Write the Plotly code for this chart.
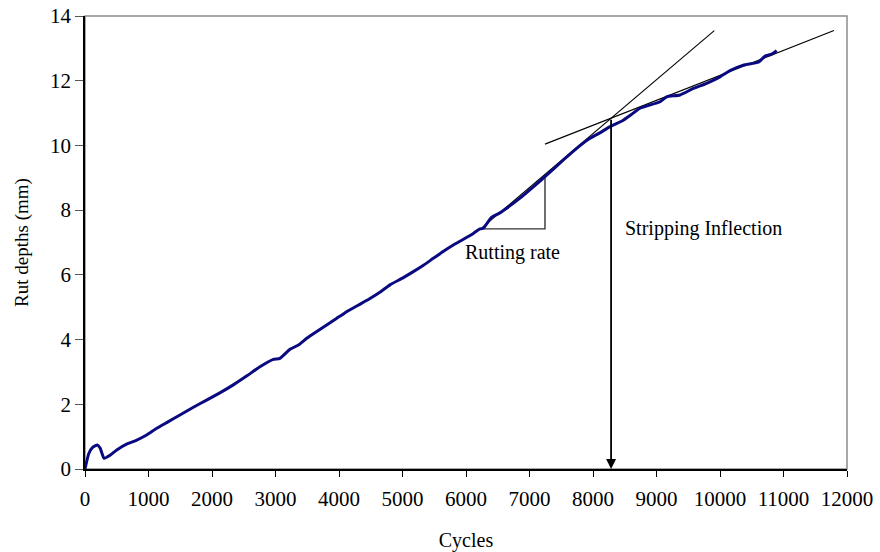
import plotly.graph_objects as go

# Measured rut depth vs. load cycles
cycles = [0, 60, 120, 195, 240, 300, 400, 500, 655, 800,
          970, 1130, 1300, 1495, 1700, 1915, 2130, 2335, 2550, 2755,
          2965, 3070, 3228, 3360, 3491, 3650, 3806, 3960, 4121, 4300,
          4488, 4650, 4803, 5000, 5170, 5330, 5485, 5640, 5800, 5960,
          6115, 6220, 6273, 6404, 6520, 6640, 6850, 7060, 7270, 7533,
          7743, 7953, 8100, 8268, 8477, 8600, 8740, 9055, 9160, 9370,
          9580, 9790, 10000, 10157, 10367, 10603, 10709, 10814, 10893]
rut_mm = [0, 0.48, 0.67, 0.74, 0.64, 0.33, 0.43, 0.59, 0.77, 0.88,
          1.05, 1.26, 1.45, 1.67, 1.9, 2.13, 2.36, 2.6, 2.88, 3.16,
          3.39, 3.42, 3.7, 3.83, 4.04, 4.25, 4.45, 4.65, 4.86, 5.06,
          5.27, 5.47, 5.69, 5.9, 6.1, 6.3, 6.51, 6.72, 6.92, 7.1,
          7.28, 7.42, 7.44, 7.78, 7.9, 8.06, 8.37, 8.72, 9.08, 9.55,
          9.91, 10.22, 10.38, 10.58, 10.78, 10.95, 11.15, 11.35, 11.5, 11.56,
          11.76, 11.92, 12.12, 12.31, 12.48, 12.57, 12.76, 12.82, 12.93]

# Tangent before stripping (creep slope) and after stripping
creep_x = [6230, 9910]
creep_y = [7.42, 13.55]
strip_x = [7244, 11795]
strip_y = [10.04, 13.55]

# Run of the rutting-rate triangle
rate_x = [6230, 7244]

x_ticks = list(range(0, 12001, 1000))
y_ticks = list(range(0, 15, 2))

FONT = "Liberation Serif, Times New Roman, serif"


def line_at(xs, ys, x):
    return ys[0] + (ys[1] - ys[0]) * (x - xs[0]) / (xs[1] - xs[0])


# Intersection of the two tangents = stripping inflection point
m1 = (creep_y[1] - creep_y[0]) / (creep_x[1] - creep_x[0])
m2 = (strip_y[1] - strip_y[0]) / (strip_x[1] - strip_x[0])
b1 = creep_y[0] - m1 * creep_x[0]
b2 = strip_y[0] - m2 * strip_x[0]
x_inf = (b2 - b1) / (m1 - m2)
y_inf = m1 * x_inf + b1

fig = go.Figure()

fig.add_trace(go.Scatter(x=creep_x, y=creep_y, mode="lines",
                         line=dict(color="black", width=1.1), showlegend=False))
fig.add_trace(go.Scatter(x=strip_x, y=strip_y, mode="lines",
                         line=dict(color="black", width=1.1), showlegend=False))

# Rutting-rate triangle (run and rise)
rate_top = line_at(creep_x, creep_y, rate_x[1]) - 0.05
fig.add_trace(go.Scatter(x=[rate_x[0], rate_x[1], rate_x[1]],
                         y=[creep_y[0], creep_y[0], rate_top],
                         mode="lines", line=dict(color="#333333", width=1.4),
                         showlegend=False))

fig.add_trace(go.Scatter(x=cycles, y=rut_mm, mode="lines",
                         line=dict(color="#0a0a80", width=3, shape="spline", smoothing=0.5),
                         showlegend=False))

# Vertical arrow from inflection point down to the cycle axis
fig.add_annotation(x=x_inf, y=0, ax=x_inf, ay=y_inf, xref="x", yref="y",
                   axref="x", ayref="y", text="", showarrow=True,
                   arrowhead=2, arrowsize=1.1, arrowwidth=1.8, arrowcolor="black")

fig.add_annotation(x=6740, y=6.7, text="Rutting rate", showarrow=False,
                   font=dict(family=FONT, size=20, color="black"))
fig.add_annotation(x=8470, y=7.42, text="Stripping Inflection", showarrow=False,
                   xanchor="left", font=dict(family=FONT, size=20, color="black"))

# Grey frame on top/right
fig.add_shape(type="rect", xref="paper", yref="paper", x0=0, y0=0, x1=1, y1=1,
              line=dict(color="#8c8c8c", width=1.5), layer="below")

fig.update_layout(
    width=880, height=552,
    margin=dict(l=85, r=33, t=16, b=83, autoexpand=False),
    plot_bgcolor="white", paper_bgcolor="white",
    font=dict(family=FONT, size=20, color="black"),
    xaxis=dict(range=[0, 12000], tickvals=x_ticks, ticktext=[str(v) for v in x_ticks],
               showgrid=False, zeroline=False, showline=True, linecolor="black",
               linewidth=1.5, ticks="outside", ticklen=6, tickcolor="black",
               tickfont=dict(size=21), automargin=False, ticklabelstandoff=4,
               title=dict(text="Cycles", font=dict(size=20), standoff=24)),
    yaxis=dict(range=[0, 14], tickvals=y_ticks, ticktext=[str(v) for v in y_ticks],
               showgrid=False, zeroline=False, showline=True, linecolor="black",
               linewidth=1.5, ticks="outside", ticklen=8, tickcolor="#555555",
               tickfont=dict(size=21), automargin=False,
               title=dict(text="Rut depths (mm)", font=dict(size=19), standoff=16)),
)

fig.write_html("out.html")
